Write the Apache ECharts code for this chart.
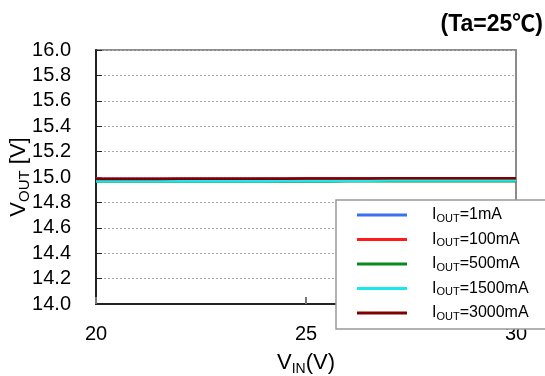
<!DOCTYPE html>
<html><head><meta charset="utf-8">
<script src="https://cdn.jsdelivr.net/npm/echarts@6/dist/echarts.min.js"></script>
<style>html,body{margin:0;padding:0;background:#fff}#c{width:545px;height:376px}</style>
</head><body><div id="c"></div>
<script>
const vin = [20,20.5,21,21.5,22,22.5,23,23.5,24,24.5,25,25.5,26,26.5,27,27.5,28,28.5,29,29.5,30];
const i1mA    = [14.987,14.987,14.987,14.987,14.987,14.987,14.987,14.987,14.988,14.988,14.988,14.988,14.988,14.988,14.988,14.988,14.989,14.989,14.989,14.989,14.989];
const i100mA  = [14.986,14.986,14.986,14.986,14.987,14.987,14.987,14.987,14.987,14.987,14.988,14.988,14.988,14.988,14.988,14.988,14.989,14.989,14.989,14.989,14.989];
const i500mA  = [14.965,14.965,14.965,14.965,14.965,14.965,14.965,14.965,14.965,14.965,14.965,14.965,14.966,14.966,14.966,14.966,14.966,14.966,14.966,14.966,14.966];
const i1500mA = [14.966,14.966,14.966,14.966,14.966,14.967,14.967,14.967,14.967,14.968,14.968,14.969,14.970,14.971,14.972,14.972,14.972,14.972,14.972,14.972,14.972];
const i3000mA = [14.985,14.985,14.985,14.985,14.986,14.986,14.986,14.986,14.987,14.987,14.988,14.988,14.989,14.989,14.990,14.990,14.990,14.990,14.990,14.990,14.990];
const seriesNames = ['1mA','100mA','500mA','1500mA','3000mA'];
const seriesData = [i1mA, i100mA, i500mA, i1500mA, i3000mA];
const colors = ['#3a6ff0','#ff1a1a','#0a8a1e','#1ae8f0','#800000'];
const yTicks = [14.0,14.2,14.4,14.6,14.8,15.0,15.2,15.4,15.6,15.8,16.0];
const xTicks = [20,25,30];

const FONT = 'Liberation Sans, Arial, sans-serif';
const chart = echarts.init(document.getElementById('c'), null, {renderer:'canvas'});
chart.setOption({
  animation:false,
  title:{text:'(Ta=25℃)', right:2, top:13, padding:0, textStyle:{fontFamily:'Liberation Sans, Noto Sans CJK JP, sans-serif', fontSize:23, fontWeight:'bold', color:'#000'}},
  grid:{left:96, right:29, top:50, bottom:72, show:true, outerBoundsMode:'none', containLabel:false, borderColor:'#8c8c8c', borderWidth:2, backgroundColor:'#fff'},
  xAxis:{type:'value', min:xTicks[0], max:xTicks[xTicks.length-1], interval:5,
    axisLine:{lineStyle:{color:'#222', width:2}},
    axisTick:{inside:true, length:7, lineStyle:{color:'#777', width:2}},
    splitLine:{show:false},
    axisLabel:{fontFamily:FONT, fontSize:20, color:'#000', margin:20},
    name:'{a|V}{b|IN}{a|(V)}', nameLocation:'middle', nameGap:46, nameMoveOverlap:false,
    nameTextStyle:{rich:{a:{fontFamily:FONT, fontSize:22, color:'#000'}, b:{fontFamily:FONT, fontSize:14, color:'#000', verticalAlign:'bottom', padding:[12,0,0,0]}}}
  },
  yAxis:{type:'value', min:yTicks[0], max:yTicks[yTicks.length-1], interval:0.2,
    axisLine:{show:true, lineStyle:{color:'#222', width:2}},
    axisTick:{inside:true, length:6, lineStyle:{color:'#222', width:1}},
    splitLine:{show:true, lineStyle:{color:'#aaa', type:[2,2], width:1}},
    axisLabel:{fontFamily:FONT, fontSize:20, color:'#000', margin:25, formatter:v=>v.toFixed(1)},
    name:'{a|V}{b|OUT}{a| [V]}', nameLocation:'middle', nameGap:64, nameRotate:90, nameMoveOverlap:false,
    nameTextStyle:{rich:{a:{fontFamily:FONT, fontSize:22, color:'#000'}, b:{fontFamily:FONT, fontSize:15, color:'#000', verticalAlign:'bottom', padding:[11,0,0,0]}}}
  },
  legend:{orient:'vertical', left:336, top:200, padding:[7,40,7,21], itemGap:7.5,
    itemWidth:50, itemHeight:3, icon:'rect',
    backgroundColor:'#fff', borderColor:'#999', borderWidth:1.5,
    data:seriesNames.map(n=>'I_'+n),
    formatter:name=>'{a|I}{b|OUT}{a|='+name.slice(2)+'}',
    textStyle:{padding:[0,0,0,20], rich:{a:{fontFamily:FONT, fontSize:16, color:'#000'}, b:{fontFamily:FONT, fontSize:11, color:'#000', verticalAlign:'bottom', padding:[7,0,0,0]}}}
  },
  series: seriesNames.map((n,i)=>({
    name:'I_'+n, type:'line', showSymbol:false, symbol:'none', color:colors[i],
    lineStyle:{width:2.5, color:colors[i]},
    data: vin.map((x,j)=>[x, seriesData[i][j]])
  }))
});
</script></body></html>
